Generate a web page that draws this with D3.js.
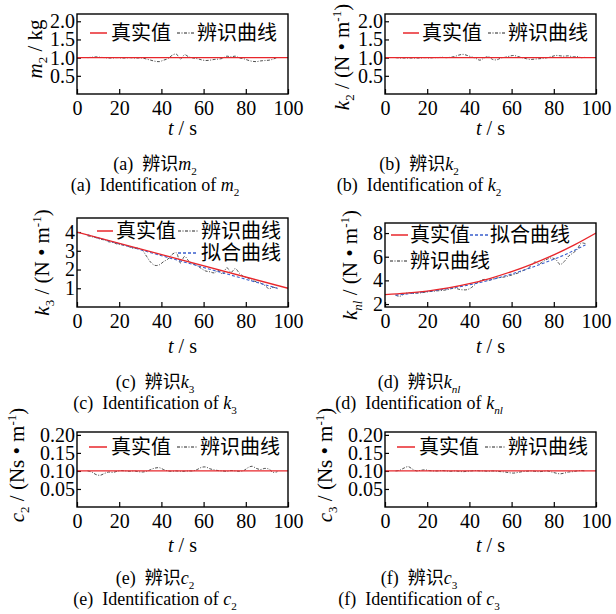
<!DOCTYPE html>
<html>
<head>
<meta charset="utf-8">
<script src="https://cdn.jsdelivr.net/npm/d3@7/dist/d3.min.js"></script>
<style>
  html, body { margin: 0; padding: 0; background: #ffffff; }
  svg { display: block; }
  .serif { font-family: "Liberation Serif", "Times New Roman", Times, serif; }
  .cjk { font-family: "Noto Sans CJK SC", "Noto Sans CJK JP", sans-serif; }
</style>
</head>
<body>
<script>
// ---- data ----
const xTicks = [0, 20, 40, 60, 80, 100];
const massTicks = [0.5, 1.0, 1.5, 2.0];
const k3Ticks = [1, 2, 3, 4];
const knlTicks = [2, 4, 6, 8];
const dampTicks = [0.05, 0.10, 0.15, 0.20];

// sample instants of the identified curves (s)
const timeSec = [5,7,9,11,13,15,17,19,21,23,25,27,29,31,33,35,37,39,41,43,45,47,49,51,53,55,57,59,61,63,65,67,69,71,73,75,77,79,81,83,85,87,89,91,93,95];

const m2Identified = [
  1.00,1.01,1.02,1.01,1.00,0.99,0.99,1.00,0.99,0.99,
  1.00,0.99,0.99,0.99,0.96,0.93,0.90,0.89,0.93,0.97,
  1.06,1.10,0.96,1.08,1.02,0.99,0.97,0.94,0.92,0.93,
  0.95,0.96,0.98,1.04,1.02,1.04,0.99,0.97,0.93,0.90,
  0.89,0.91,0.92,0.93,0.96,1.01];
const k2Identified = [
  1.00,0.99,0.99,0.99,0.99,0.99,0.99,1.00,0.99,1.00,
  1.00,1.01,1.00,1.01,1.03,1.07,1.09,1.06,1.02,0.98,
  0.93,0.99,1.03,0.95,0.94,0.99,1.01,1.04,1.06,1.03,
  1.00,0.97,0.95,0.96,0.97,0.98,1.00,1.03,1.06,1.05,
  1.04,1.05,1.02,1.03,1.00,1.01];
const k3Identified = [
  3.80,3.75,3.70,3.62,3.58,3.48,3.45,3.36,3.32,3.28,
  3.20,3.12,3.15,3.02,2.70,2.38,2.22,2.25,2.42,2.55,
  2.80,2.90,2.35,2.70,2.45,2.30,2.20,2.05,1.92,1.88,
  1.82,1.95,1.75,2.10,1.85,2.05,1.80,1.62,1.55,1.42,
  1.35,1.28,1.15,0.98,1.05,0.98];
const knlIdentified = [
  2.75,2.65,2.85,2.95,2.90,2.92,2.95,3.00,3.05,3.08,
  3.12,3.15,3.20,3.28,3.35,3.25,3.20,3.22,3.40,3.70,
  3.95,4.08,4.00,4.10,4.20,4.25,4.30,4.40,4.50,4.62,
  4.80,4.95,5.20,5.55,5.40,5.60,5.80,5.90,5.75,5.35,
  5.60,6.05,6.30,6.60,7.15,7.10];
const c2Identified = [
  0.100,0.097,0.090,0.088,0.093,0.097,0.096,0.099,0.101,0.100,
  0.099,0.100,0.098,0.097,0.099,0.104,0.108,0.109,0.104,0.100,
  0.099,0.100,0.099,0.099,0.100,0.100,0.104,0.110,0.111,0.106,
  0.103,0.101,0.100,0.099,0.101,0.100,0.099,0.101,0.109,0.113,
  0.107,0.104,0.107,0.105,0.096,0.098];
const c3Identified = [
  0.100,0.102,0.108,0.112,0.105,0.100,0.102,0.103,0.101,0.100,
  0.100,0.101,0.100,0.099,0.100,0.099,0.098,0.099,0.100,0.101,
  0.100,0.100,0.099,0.100,0.099,0.098,0.097,0.095,0.094,0.096,
  0.098,0.099,0.100,0.099,0.098,0.099,0.100,0.097,0.094,0.092,
  0.094,0.097,0.098,0.100,0.101,0.100];

// fitted curves (s / value)
const fitTime = [5,15,25,35,45,55,65,75,85,95];
const k3Fitted = [3.85,3.53,3.22,2.90,2.58,2.27,1.95,1.64,1.32,1.00];
const knlFitted = [2.75,2.95,3.18,3.45,3.82,4.28,4.82,5.45,6.15,7.00];

// true parameter values
const trueTime = [0, 100];
const m2True = [1.0, 1.0];
const k2True = [1.0, 1.0];
const k3True = [4.0, 1.0];
const c2True = [0.10, 0.10];
const c3True = [0.10, 0.10];
const knlTrueTime = [0,10,20,30,40,50,60,70,80,90,100];
const knlTrue = [2.80,2.92,3.10,3.36,3.72,4.18,4.74,5.40,6.15,7.02,8.00];

// ---- drawing ----
const W = 616, H = 614;
const RED = "#e8262b", BLUE = "#3a5fcd", DARK = "#222";

const svg = d3.select("body").append("svg").attr("width", W).attr("height", H);
svg.append("rect").attr("width", W).attr("height", H).attr("fill", "#fff");

const styles = {
  truth: { stroke: RED, width: 1.3, dash: null },
  ident: { stroke: DARK, width: 0.8, dash: "3,1.5,1,1.5" },
  fit:   { stroke: BLUE, width: 1.1, dash: "3,2" }
};

// rich text: parts = [{t, i(italic), sub, sup, cjk}]
function rich(sel, parts, size) {
  let shift = 0;
  parts.forEach(p => {
    const ts = sel.append("tspan").text(p.t);
    let target = 0, fs = size;
    if (p.sub) { target = size * 0.26; fs = size * 0.62; }
    if (p.sup) { target = -size * 0.38; fs = size * 0.62; }
    ts.style("font-size", fs + "px");
    if (target !== shift) { ts.attr("dy", target - shift); shift = target; }
    if (p.i) ts.style("font-style", "italic");
    ts.attr("class", p.cjk ? "cjk" : "serif");
  });
}

function drawPanel(cfg) {
  const x = d3.scaleLinear().domain([0, 100]).range([cfg.left, cfg.right]);
  const y = d3.scaleLinear().domain(cfg.yDomain).range([cfg.bottom, cfg.top]);
  const g = svg.append("g");

  // x axis with inward ticks
  const xa = g.append("g").attr("transform", `translate(0,${cfg.bottom})`)
    .call(d3.axisBottom(x).tickValues(xTicks).tickSizeInner(-5).tickSizeOuter(0).tickPadding(7).tickFormat(d3.format("d")));
  xa.attr("font-family", null).attr("font-size", null);
  xa.select(".domain").remove();
  xa.selectAll("line").attr("stroke", "#000").attr("stroke-width", 1.2);
  xa.selectAll("text").attr("class", "serif").style("font-size", "20px").attr("fill", "#000");

  // y axis with inward ticks
  const ya = g.append("g").attr("transform", `translate(${cfg.left},0)`)
    .call(d3.axisLeft(y).tickValues(cfg.yTicks).tickSizeInner(-4).tickSizeOuter(0).tickPadding(2).tickFormat(d3.format(cfg.fmt)));
  ya.attr("font-family", null).attr("font-size", null);
  ya.select(".domain").remove();
  ya.selectAll("line").attr("stroke", "#000").attr("stroke-width", 1.2);
  ya.selectAll("text").attr("class", "serif").style("font-size", "20px").attr("fill", "#000");

  // curves
  const clipId = "clip-" + cfg.key;
  g.append("clipPath").attr("id", clipId).append("rect")
    .attr("x", cfg.left).attr("y", cfg.top).attr("width", cfg.right - cfg.left).attr("height", cfg.bottom - cfg.top);
  const plot = g.append("g").attr("clip-path", `url(#${clipId})`);
  cfg.series.forEach(s => {
    const st = styles[s.kind];
    const pts = s.t.map((t, i) => [t, s.v[i]]);
    const line = d3.line().x(d => x(d[0])).y(d => y(d[1]))
      .curve(s.kind === "ident" ? d3.curveCatmullRom.alpha(0.5) : d3.curveMonotoneX);
    plot.append("path").datum(pts).attr("d", line)
      .attr("fill", "none").attr("stroke", st.stroke).attr("stroke-width", st.width)
      .attr("stroke-dasharray", st.dash);
  });

  // frame
  g.append("rect").attr("x", cfg.left).attr("y", cfg.top)
    .attr("width", cfg.right - cfg.left).attr("height", cfg.bottom - cfg.top)
    .attr("fill", "none").attr("stroke", "#000").attr("stroke-width", 1.4);

  // legend
  cfg.legend.forEach(L => {
    const st = styles[L.kind];
    g.append("line").attr("x1", L.x1).attr("x2", L.x2).attr("y1", L.y).attr("y2", L.y)
      .attr("stroke", st.stroke).attr("stroke-width", st.width + 0.2).attr("stroke-dasharray", st.dash);
    g.append("text").attr("x", L.tx).attr("y", L.y).attr("dy", "0.36em")
      .attr("class", "cjk").style("font-size", "20px").attr("fill", "#000").text(L.label);
  });

  // y title
  const yt = g.append("text")
    .attr("transform", `translate(${cfg.ytX},${cfg.ytY ?? (cfg.top + cfg.bottom) / 2}) rotate(-90)`)
    .attr("text-anchor", "middle").attr("class", "serif").attr("fill", "#000");
  rich(yt, cfg.yTitle, 21);

  // x title
  const xt = g.append("text").attr("x", (cfg.left + cfg.right) / 2).attr("y", cfg.xtY)
    .attr("text-anchor", "middle").attr("class", "serif").attr("fill", "#000");
  rich(xt, [{ t: "t", i: true }, { t: " / s" }], 20);

  // captions
  const c1 = g.append("text").attr("x", cfg.capX).attr("y", cfg.capY)
    .attr("text-anchor", "middle").attr("class", "serif").attr("fill", "#000");
  rich(c1, [{ t: `(${cfg.key})\u00a0\u00a0` }, { t: "辨识", cjk: true }].concat(cfg.sym), 18);
  const c2 = g.append("text").attr("x", cfg.capX).attr("y", cfg.capY + 21)
    .attr("text-anchor", "middle").attr("class", "serif").attr("fill", "#000");
  rich(c2, [{ t: `(${cfg.key})\u00a0\u00a0Identification of ` }].concat(cfg.sym), 18);
}

const perM = [{ t: " / (N • m" }, { t: "-1", sup: true }, { t: ")" }];
const perMs = [{ t: " / (Ns • m" }, { t: "-1", sup: true }, { t: ")" }];

const panels = [
  { key: "a", left: 77, right: 288, top: 14, bottom: 94, yDomain: [0, 2.2], yTicks: massTicks, fmt: ".1f",
    series: [{ kind: "ident", t: timeSec, v: m2Identified }, { kind: "truth", t: trueTime, v: m2True }],
    legend: [
      { kind: "truth", x1: 90, x2: 107, y: 33, tx: 111, label: "真实值" },
      { kind: "ident", x1: 177, x2: 194, y: 33, tx: 197, label: "辨识曲线" }
    ],
    yTitle: [{ t: "m", i: true }, { t: "2", sub: true }, { t: " / kg" }], ytX: 42, ytY: 49, xtY: 135,
    capX: 155, capY: 170, sym: [{ t: "m", i: true }, { t: "2", sub: true }] },
  { key: "b", left: 385, right: 596, top: 14, bottom: 94, yDomain: [0, 2.2], yTicks: massTicks, fmt: ".1f",
    series: [{ kind: "ident", t: timeSec, v: k2Identified }, { kind: "truth", t: trueTime, v: k2True }],
    legend: [
      { kind: "truth", x1: 403, x2: 419, y: 33, tx: 422, label: "真实值" },
      { kind: "ident", x1: 488, x2: 505, y: 33, tx: 508, label: "辨识曲线" }
    ],
    yTitle: [{ t: "k", i: true }, { t: "2", sub: true }].concat(perM), ytX: 349, ytY: 57, xtY: 135,
    capX: 419, capY: 170, sym: [{ t: "k", i: true }, { t: "2", sub: true }] },
  { key: "c", left: 77, right: 288, top: 218, bottom: 307, yDomain: [0, 4.75], yTicks: k3Ticks, fmt: "d",
    series: [{ kind: "ident", t: timeSec, v: k3Identified }, { kind: "fit", t: fitTime, v: k3Fitted },
             { kind: "truth", t: trueTime, v: k3True }],
    legend: [
      { kind: "truth", x1: 97, x2: 113, y: 231, tx: 116, label: "真实值" },
      { kind: "ident", x1: 178, x2: 198, y: 231, tx: 201, label: "辨识曲线" },
      { kind: "fit", x1: 178, x2: 198, y: 253, tx: 201, label: "拟合曲线" }
    ],
    yTitle: [{ t: "k", i: true }, { t: "3", sub: true }].concat(perM), ytX: 49, xtY: 353,
    capX: 155, capY: 388, sym: [{ t: "k", i: true }, { t: "3", sub: true }] },
  { key: "d", left: 385, right: 596, top: 223, bottom: 307, yDomain: [1.75, 8.85], yTicks: knlTicks, fmt: "d",
    series: [{ kind: "ident", t: timeSec, v: knlIdentified }, { kind: "fit", t: fitTime, v: knlFitted },
             { kind: "truth", t: knlTrueTime, v: knlTrue }],
    legend: [
      { kind: "truth", x1: 391, x2: 408, y: 235, tx: 410, label: "真实值" },
      { kind: "fit", x1: 470, x2: 488, y: 235, tx: 490, label: "拟合曲线" },
      { kind: "ident", x1: 390, x2: 407, y: 261, tx: 410, label: "辨识曲线" }
    ],
    yTitle: [{ t: "k", i: true }, { t: "nl", sub: true, i: true }].concat(perM), ytX: 357, xtY: 353,
    capX: 419, capY: 388, sym: [{ t: "k", i: true }, { t: "nl", sub: true, i: true }] },
  { key: "e", left: 77, right: 288, top: 432, bottom: 507, yDomain: [0, 0.208], yTicks: dampTicks, fmt: ".2f",
    series: [{ kind: "ident", t: timeSec, v: c2Identified }, { kind: "truth", t: trueTime, v: c2True }],
    legend: [
      { kind: "truth", x1: 89, x2: 107, y: 447, tx: 111, label: "真实值" },
      { kind: "ident", x1: 177, x2: 197, y: 447, tx: 200, label: "辨识曲线" }
    ],
    yTitle: [{ t: "c", i: true }, { t: "2", sub: true }].concat(perMs), ytX: 24, ytY: 465, xtY: 552,
    capX: 155, capY: 584, sym: [{ t: "c", i: true }, { t: "2", sub: true }] },
  { key: "f", left: 385, right: 596, top: 432, bottom: 507, yDomain: [0, 0.208], yTicks: dampTicks, fmt: ".2f",
    series: [{ kind: "ident", t: timeSec, v: c3Identified }, { kind: "truth", t: trueTime, v: c3True }],
    legend: [
      { kind: "truth", x1: 397, x2: 415, y: 447, tx: 419, label: "真实值" },
      { kind: "ident", x1: 485, x2: 505, y: 447, tx: 508, label: "辨识曲线" }
    ],
    yTitle: [{ t: "c", i: true }, { t: "3", sub: true }].concat(perMs), ytX: 332, ytY: 465, xtY: 552,
    capX: 419, capY: 584, sym: [{ t: "c", i: true }, { t: "3", sub: true }] }
];

panels.forEach(drawPanel);
</script>
</body>
</html>
